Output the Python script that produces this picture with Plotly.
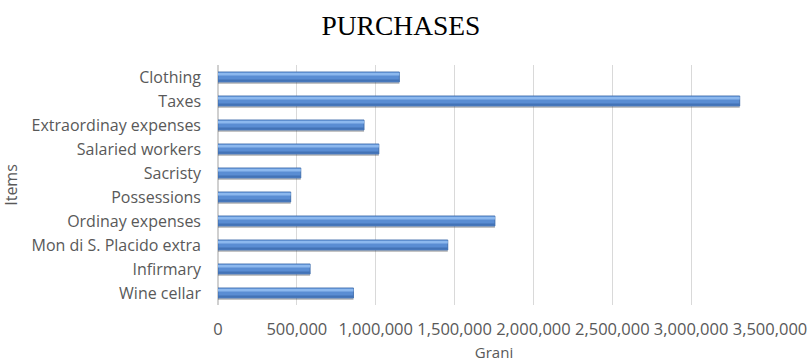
import plotly.graph_objects as go

categories = ["Clothing", "Taxes", "Extraordinay expenses", "Salaried workers", "Sacristy",
              "Possessions", "Ordinay expenses", "Mon di S. Placido extra", "Infirmary", "Wine cellar"]
values = [1150000, 3308000, 926000, 1020000, 525000, 461000, 1756000, 1457000, 584000, 859000]
tick_vals = [0, 500000, 1000000, 1500000, 2000000, 2500000, 3000000, 3500000]
tick_text = ["0", "500,000", "1,000,000", "1,500,000", "2,000,000", "2,500,000", "3,000,000", "3,500,000"]

fig = go.Figure()
# drop shadow
fig.add_trace(go.Bar(y=categories, x=values, orientation="h", offset=-0.17, width=0.46,
                     marker=dict(color="rgba(60,60,60,0.3)", line=dict(width=0)), hoverinfo="skip"))
# main bar
fig.add_trace(go.Bar(y=categories, x=values, orientation="h", offset=-0.21, width=0.42,
                     marker=dict(color="#5A8DD3", line=dict(color="#3B69A8", width=0.8))))
# top highlight band
fig.add_trace(go.Bar(y=categories, x=values, orientation="h", offset=-0.18, width=0.12,
                     marker=dict(color="#8CB8EE", line=dict(width=0)), hoverinfo="skip"))
# bottom dark band
fig.add_trace(go.Bar(y=categories, x=values, orientation="h", offset=0.10, width=0.09,
                     marker=dict(color="#4373B6", line=dict(width=0)), hoverinfo="skip"))

fig.update_layout(
    width=810, height=362,
    margin=dict(l=218, r=40, t=65, b=57),
    paper_bgcolor="white", plot_bgcolor="white",
    showlegend=False, barmode="overlay",
    title=dict(text="PURCHASES", x=0.495, xanchor="center", y=0.931, yanchor="middle",
               font=dict(family="Liberation Serif", size=27.5, color="#000000")),
    font=dict(family="Open Sans", size=15, color="#595959"),
)
fig.update_xaxes(range=[0, 3500000], tickvals=tick_vals, ticktext=tick_text, automargin=False,
                 showgrid=True, gridcolor="#D9D9D9", gridwidth=1, zeroline=True,
                 zerolinecolor="#D0D0D0", ticks="", ticklabelstandoff=12,
                 title=dict(text="Grani", font=dict(size=15, color="#595959"), standoff=11),
                 tickfont=dict(size=16.5, color="#595959"))
fig.update_yaxes(autorange="reversed", showgrid=False, ticks="", ticklabelstandoff=16, automargin=False,
                 title=dict(text="Items", font=dict(size=16, color="#595959"), standoff=9),
                 tickfont=dict(size=16, color="#595959"))
fig.write_html("out.html")
